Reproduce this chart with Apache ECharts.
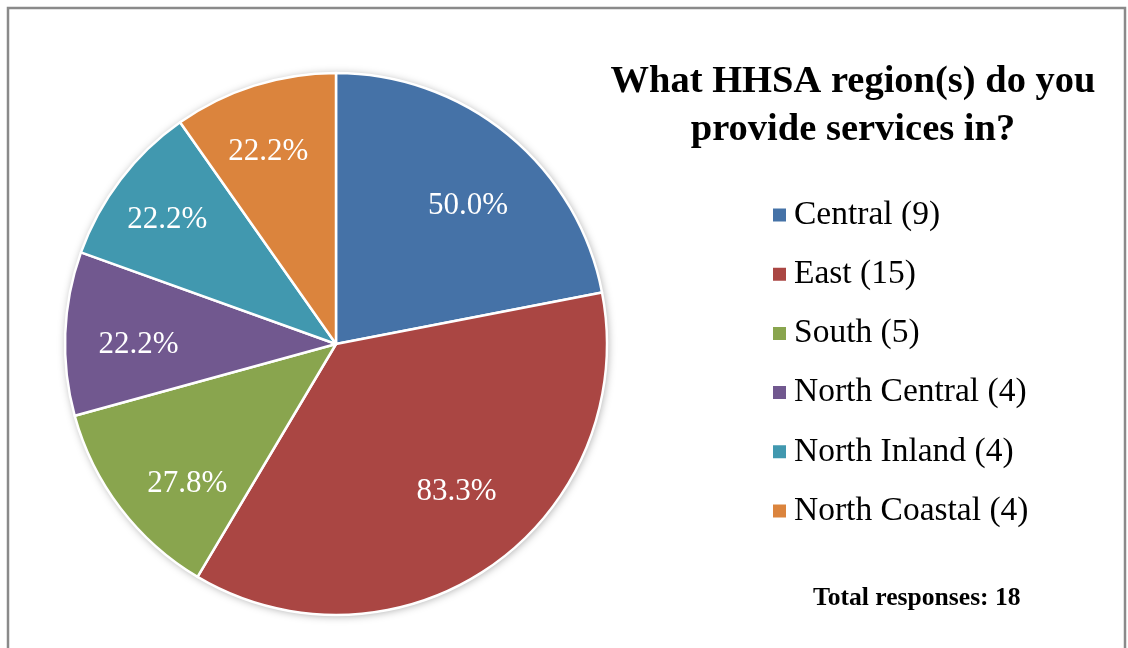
<!DOCTYPE html>
<html>
<head>
<meta charset="utf-8">
<script src="https://cdn.jsdelivr.net/npm/echarts@6/dist/echarts.min.js"></script>
<style>
  html, body { margin: 0; padding: 0; background: #fff; }
  #chart { width: 1128px; height: 648px; }
</style>
</head>
<body>
<div id="chart"></div>
<script>
// Survey: HHSA regions where respondents provide services (multi-select)
const regions = ['Central', 'East', 'South', 'North Central', 'North Inland', 'North Coastal'];
const counts = [9, 15, 5, 4, 4, 4];
const colors = ['#4572A7', '#AA4643', '#89A54E', '#71588F', '#4198AF', '#DB843D'];
const totalResponses = 18;
const titleLines = ['What HHSA region(s) do you', 'provide services in?'];

// best-fit style nudges for the percentage labels, per slice (px)
const labelNudge = [[2, 20], [3, -19], [14, 16], [7, 9], [-6, 0], [-6, 3]];

const SERIF = '"Liberation Serif", "DejaVu Serif", serif';

const legendName = (i) => regions[i] + ' (' + counts[i] + ')';
const pieData = regions.map((r, i) => ({
  name: legendName(i),
  value: counts[i],
  itemStyle: { color: colors[i] }
}));

const center = [336, 344];
const radius = 271;

const chart = echarts.init(document.getElementById('chart'), null, { renderer: 'canvas' });

chart.setOption({
  animation: false,
  backgroundColor: '#ffffff',
  title: {
    text: titleLines.join('\n'),
    left: 848,
    top: 53,
    textAlign: 'center',
    textStyle: {
      fontFamily: SERIF,
      fontWeight: 'bold',
      fontSize: 38.5,
      lineHeight: 48,
      color: '#000'
    }
  },
  legend: {
    orient: 'vertical',
    left: 771,
    top: 198,
    padding: 0,
    icon: 'rect',
    itemWidth: 15,
    itemHeight: 15,
    itemGap: 25.2,
    selectedMode: false,
    data: pieData.map(d => d.name),
    textStyle: {
      fontFamily: SERIF,
      fontSize: 33.5,
      lineHeight: 33.5,
      color: '#000',
      padding: [0, 0, 0, 2]
    }
  },
  graphic: [
    {
      type: 'rect',
      shape: { x: 8, y: 8, width: 1117, height: 700 },
      style: { fill: 'none', stroke: '#8a8a8a', lineWidth: 2.5 },
      z: -10
    },
    {
      type: 'text',
      left: 813,
      top: 585,
      style: {
        text: 'Total responses: ' + totalResponses,
        fontFamily: SERIF,
        fontWeight: 'bold',
        fontSize: 25.6,
        fill: '#000'
      }
    }
  ],
  series: [
    {
      // soft drop shadow under the pie
      type: 'pie',
      center: center,
      radius: radius,
      silent: true,
      z: 1,
      label: { show: false },
      labelLine: { show: false },
      data: [{ value: 1, name: '_shadow' }],
      itemStyle: {
        color: '#ffffff',
        shadowBlur: 8,
        shadowColor: 'rgba(0,0,0,0.35)',
        shadowOffsetX: 1,
        shadowOffsetY: 1
      }
    },
    {
      type: 'pie',
      center: center,
      radius: radius,
      startAngle: 90,
      clockwise: true,
      z: 2,
      label: { show: false },
      labelLine: { show: false },
      itemStyle: { borderColor: '#ffffff', borderWidth: 2.5 },
      data: pieData
    },
    {
      // transparent ring that carries the percentage labels
      type: 'pie',
      center: center,
      radius: [132, radius],
      startAngle: 90,
      clockwise: true,
      silent: true,
      z: 3,
      itemStyle: { color: 'rgba(0,0,0,0)' },
      labelLine: { show: false },
      label: {
        show: true,
        position: 'inside',
        fontFamily: SERIF,
        fontSize: 31,
        color: '#ffffff',
        formatter: (p) => (p.value / totalResponses * 100).toFixed(1) + '%'
      },
      data: pieData.map((d, i) => ({
        name: d.name,
        value: d.value,
        label: { offset: labelNudge[i] }
      }))
    }
  ]
});
</script>
</body>
</html>
